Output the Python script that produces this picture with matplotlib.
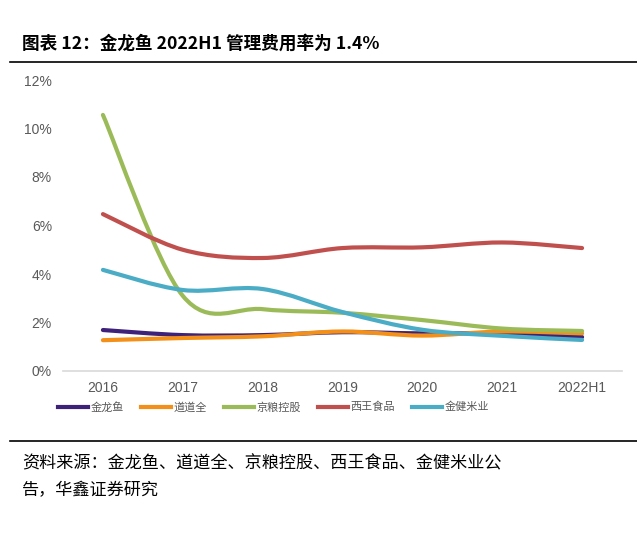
import matplotlib
matplotlib.use("Agg")
import matplotlib.pyplot as plt
from matplotlib.path import Path
from matplotlib.patches import PathPatch
from matplotlib.lines import Line2D
import numpy as np

plt.rcParams['font.family'] = ['Noto Sans CJK SC', 'DejaVu Sans']

categories = ['2016', '2017', '2018', '2019', '2020', '2021', '2022H1']
series_names = ['金龙鱼', '道道全', '京粮控股', '西王食品', '金健米业']
jinlongyu = [1.69, 1.48, 1.48, 1.60, 1.55, 1.55, 1.40]
daodaoquan = [1.27, 1.36, 1.43, 1.63, 1.46, 1.63, 1.55]
jingliang = [10.56, 3.1, 2.55, 2.4, 2.1, 1.75, 1.65]
xiwang = [6.47, 5.0, 4.66, 5.07, 5.1, 5.3, 5.07]
jinjian = [4.17, 3.34, 3.38, 2.43, 1.7, 1.45, 1.28]
colors = ['#3E2178', '#F39019', '#9BBB59', '#C0504D', '#4BACC6']
yticks = [0, 2, 4, 6, 8, 10, 12]

fig = plt.figure(figsize=(6.37, 5.33), dpi=100)
ax = fig.add_axes([63/637, 1-371/533, 559/637, 291/533])

def smooth_path(xs, ys):
    xs = np.asarray(xs, float); ys = np.asarray(ys, float)
    verts = [(xs[0], ys[0])]
    codes = [Path.MOVETO]
    n = len(xs)
    for i in range(n - 1):
        p0 = (xs[max(i-1, 0)], ys[max(i-1, 0)])
        p1 = (xs[i], ys[i]); p2 = (xs[i+1], ys[i+1])
        p3 = (xs[min(i+2, n-1)], ys[min(i+2, n-1)])
        t = 1/6
        c1 = (p1[0] + (p2[0]-p0[0])*t, p1[1] + (p2[1]-p0[1])*t)
        c2 = (p2[0] - (p3[0]-p1[0])*t, p2[1] - (p3[1]-p1[1])*t)
        verts += [c1, c2, p2]
        codes += [Path.CURVE4]*3
    return Path(verts, codes)

x = np.arange(len(categories))
data = [jinlongyu, daodaoquan, jingliang, xiwang, jinjian]
handles = []
for name, vals, c in zip(series_names, data, colors):
    patch = PathPatch(smooth_path(x, vals), facecolor='none', edgecolor=c, lw=3.0, capstyle='round')
    ax.add_patch(patch)
    handles.append(Line2D([0], [0], color=c, lw=3.0, label=name))

ax.set_xlim(-0.5, 6.5)
ax.set_ylim(0, 12)
ax.set_xticks(x)
ax.set_xticklabels(categories, family='Liberation Sans')
ax.set_yticks(yticks)
ax.set_yticklabels([f'{v}%' for v in yticks], family='Liberation Sans')
ax.tick_params(length=0, labelsize=10, colors='#595959')
ax.tick_params(axis='x', pad=7)
ax.tick_params(axis='y', pad=8)
for s in ['top', 'right', 'left']:
    ax.spines[s].set_visible(False)
ax.spines['bottom'].set_color('#D9D9D9')
ax.spines['bottom'].set_linewidth(1.2)

fig.legend(handles=handles, loc='center left', bbox_to_anchor=(48/637, 1-407/533), ncol=5,
           frameon=False, fontsize=8, handlelength=2.7, handletextpad=0.25, columnspacing=1.5,
           labelcolor='#595959')

fig.text(22/637, 1-44/533, '图表 12：金龙鱼 2022H1 管理费用率为 1.4%', fontsize=12.7, fontweight='bold',
         va='center', ha='left', color='black')
fig.add_artist(Line2D([10/637, 1], [1-62/533, 1-62/533], color='black', lw=1.2))
fig.add_artist(Line2D([10/637, 1], [1-441/533, 1-441/533], color='black', lw=1.2))
fig.text(22/637, 1-463/533, '资料来源：金龙鱼、道道全、京粮控股、西王食品、金健米业公', fontsize=12.3,
         va='center', ha='left', color='black')
fig.text(22/637, 1-490/533, '告，华鑫证券研究', fontsize=12.3, va='center', ha='left', color='black')

fig.savefig('out.png', dpi=100)
